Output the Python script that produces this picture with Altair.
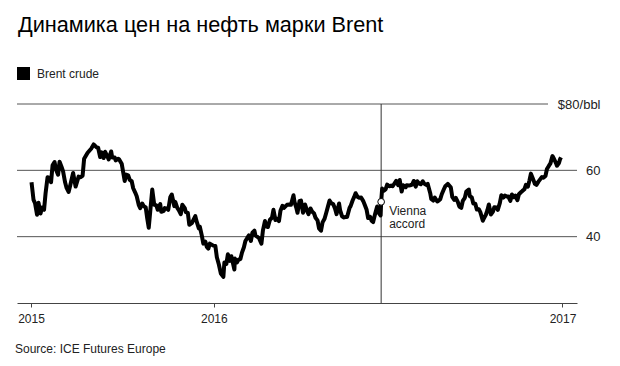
import altair as alt
import pandas as pd

# ---------------- data ----------------
title_text = "Динамика цен на нефть марки Brent"
source_text = "Source: ICE Futures Europe"
series_name = "Brent crude"

dates = [
    "2015-01-02", "2015-01-06", "2015-01-09", "2015-01-13", "2015-01-16", "2015-01-20", "2015-01-23",
    "2015-01-27", "2015-01-30", "2015-02-03", "2015-02-06", "2015-02-10", "2015-02-13", "2015-02-17",
    "2015-02-20", "2015-02-24", "2015-02-27", "2015-03-03", "2015-03-06", "2015-03-10", "2015-03-13",
    "2015-03-17", "2015-03-20", "2015-03-26", "2015-03-31", "2015-04-06", "2015-04-10", "2015-04-14",
    "2015-04-17", "2015-04-24", "2015-05-01", "2015-05-06", "2015-05-12", "2015-05-15", "2015-05-19",
    "2015-05-22", "2015-05-26", "2015-05-29", "2015-06-03", "2015-06-05", "2015-06-10", "2015-06-12",
    "2015-06-17", "2015-06-19", "2015-06-24", "2015-06-26", "2015-07-01", "2015-07-07", "2015-07-10",
    "2015-07-14", "2015-07-17", "2015-07-21", "2015-07-24", "2015-07-28", "2015-07-31", "2015-08-04",
    "2015-08-07", "2015-08-11", "2015-08-14", "2015-08-18", "2015-08-21", "2015-08-24", "2015-08-27",
    "2015-08-31", "2015-09-04", "2015-09-08", "2015-09-11", "2015-09-16", "2015-09-18", "2015-09-23",
    "2015-09-25", "2015-09-30", "2015-10-02", "2015-10-06", "2015-10-09", "2015-10-14", "2015-10-16",
    "2015-10-20", "2015-10-23", "2015-10-27", "2015-10-30", "2015-11-04", "2015-11-06", "2015-11-10",
    "2015-11-13", "2015-11-18", "2015-11-20", "2015-11-25", "2015-11-27", "2015-12-02", "2015-12-04",
    "2015-12-08", "2015-12-11", "2015-12-15", "2015-12-18", "2015-12-21", "2015-12-24", "2015-12-31",
    "2016-01-04", "2016-01-07", "2016-01-11", "2016-01-15", "2016-01-20", "2016-01-22", "2016-01-26",
    "2016-01-29", "2016-02-02", "2016-02-05", "2016-02-11", "2016-02-12", "2016-02-16", "2016-02-19",
    "2016-02-23", "2016-02-26", "2016-03-01", "2016-03-04", "2016-03-08", "2016-03-11", "2016-03-15",
    "2016-03-18", "2016-03-22", "2016-03-24", "2016-03-31", "2016-04-05", "2016-04-08", "2016-04-12",
    "2016-04-15", "2016-04-18", "2016-04-22", "2016-04-26", "2016-04-29", "2016-05-03", "2016-05-06",
    "2016-05-10", "2016-05-13", "2016-05-17", "2016-05-20", "2016-05-26", "2016-05-31", "2016-06-03",
    "2016-06-08", "2016-06-10", "2016-06-14", "2016-06-16", "2016-06-20", "2016-06-23", "2016-06-27",
    "2016-07-01", "2016-07-06", "2016-07-08", "2016-07-12", "2016-07-15", "2016-07-19", "2016-07-22",
    "2016-07-26", "2016-07-29", "2016-08-02", "2016-08-05", "2016-08-09", "2016-08-12", "2016-08-16",
    "2016-08-19", "2016-08-23", "2016-08-26", "2016-08-30", "2016-09-02", "2016-09-07", "2016-09-09",
    "2016-09-13", "2016-09-16", "2016-09-20", "2016-09-23", "2016-09-28", "2016-09-30", "2016-10-04",
    "2016-10-07", "2016-10-10", "2016-10-14", "2016-10-18", "2016-10-21", "2016-10-25", "2016-10-28",
    "2016-11-01", "2016-11-04", "2016-11-08", "2016-11-11", "2016-11-14", "2016-11-18", "2016-11-22",
    "2016-11-25", "2016-11-29", "2016-11-30", "2016-12-02", "2016-12-06", "2016-12-09", "2016-12-12",
    "2016-12-16", "2016-12-20", "2016-12-23", "2016-12-30",
    "2017-01-03", "2017-01-06", "2017-01-10", "2017-01-13", "2017-01-18", "2017-01-20", "2017-01-24",
    "2017-01-27", "2017-01-31", "2017-02-03", "2017-02-07", "2017-02-10", "2017-02-14", "2017-02-17",
    "2017-02-21", "2017-02-24", "2017-02-28", "2017-03-03", "2017-03-08", "2017-03-10", "2017-03-14",
    "2017-03-17", "2017-03-22", "2017-03-24", "2017-03-28", "2017-03-31", "2017-04-04", "2017-04-07",
    "2017-04-12", "2017-04-18", "2017-04-21", "2017-04-25", "2017-04-28", "2017-05-02", "2017-05-05",
    "2017-05-09", "2017-05-12", "2017-05-16", "2017-05-19", "2017-05-24", "2017-05-26", "2017-05-30",
    "2017-06-02", "2017-06-06", "2017-06-09", "2017-06-13", "2017-06-16", "2017-06-21", "2017-06-23",
    "2017-06-27", "2017-06-30", "2017-07-03", "2017-07-07", "2017-07-11", "2017-07-14", "2017-07-18",
    "2017-07-21", "2017-07-25", "2017-07-28", "2017-08-01", "2017-08-04", "2017-08-08", "2017-08-11",
    "2017-08-15", "2017-08-18", "2017-08-22", "2017-08-25", "2017-08-29", "2017-09-01", "2017-09-05",
    "2017-09-08", "2017-09-12", "2017-09-15", "2017-09-19", "2017-09-22", "2017-09-25", "2017-09-29",
    "2017-10-03", "2017-10-06", "2017-10-10", "2017-10-13", "2017-10-17", "2017-10-20", "2017-10-24",
    "2017-10-27", "2017-10-31", "2017-11-03", "2017-11-07", "2017-11-10", "2017-11-14", "2017-11-16",
    "2017-11-20", "2017-11-22", "2017-11-24",
]

brent = [
    56.4, 51.1, 50.1, 46.6, 50.2, 47.0, 48.8,
    48.1, 53.0, 57.9, 57.8, 56.4, 61.5, 62.5,
    60.2, 58.7, 62.6, 61.0, 59.7, 56.4, 54.7,
    53.5, 55.3, 59.2, 55.1, 58.1, 57.9, 58.4,
    63.5, 65.3, 66.5, 67.8, 66.9, 66.8, 64.0,
    65.4, 63.7, 65.6, 64.0, 63.3, 65.7, 63.9,
    63.9, 63.0, 63.5, 63.3, 62.0, 56.8, 58.7,
    58.5, 57.1, 56.7, 54.6, 53.3, 52.2, 49.6,
    48.6, 50.0, 49.2, 48.8, 45.5, 42.7, 47.6,
    54.2, 49.6, 49.5, 48.1, 49.8, 47.5, 47.8,
    48.6, 48.4, 48.1, 51.9, 52.7, 49.2, 50.5,
    48.7, 48.0, 46.8, 49.6, 48.6, 47.4, 47.2,
    43.6, 44.1, 44.7, 46.2, 44.9, 42.5, 43.0,
    40.3, 37.9, 38.5, 36.9, 36.4, 37.9, 37.3,
    37.2, 33.8, 31.6, 28.9, 27.9, 32.2, 31.8,
    34.7, 32.7, 34.1, 30.1, 33.4, 32.2, 33.0,
    33.3, 35.1, 36.8, 38.7, 39.7, 40.4, 38.7,
    41.2, 41.8, 40.4, 39.6, 37.9, 41.9, 44.7,
    43.1, 42.9, 45.1, 45.7, 48.1, 45.0, 45.4,
    44.7, 47.8, 49.3, 48.7, 49.6, 49.7, 49.6,
    52.5, 50.5, 48.5, 47.2, 50.7, 50.9, 47.2,
    49.7, 47.4, 46.8, 48.5, 47.6, 47.0, 45.7,
    44.9, 42.5, 41.8, 44.3, 45.4, 47.0, 49.2,
    50.9, 50.0, 49.9, 48.4, 46.8, 50.0, 48.0,
    46.1, 45.8, 45.9, 45.9, 48.7, 49.2, 50.9,
    51.9, 53.1, 52.0, 51.7, 51.8, 50.8, 49.7,
    48.1, 45.6, 46.0, 44.8, 44.4, 46.9, 49.1,
    47.2, 46.4, 50.5, 54.5, 53.9, 54.3, 55.7,
    55.2, 55.4, 55.2, 56.8,
    55.5, 57.1, 53.6, 55.5, 54.9, 55.5, 55.4,
    55.5, 55.7, 56.8, 55.1, 56.7, 56.0, 55.8,
    56.7, 56.0, 55.6, 55.9, 53.1, 51.4, 50.9,
    51.8, 50.6, 50.8, 51.3, 52.8, 54.2, 55.2,
    55.9, 54.9, 52.0, 51.1, 51.7, 50.5, 49.1,
    48.7, 50.8, 51.7, 53.6, 54.2, 52.2, 51.8,
    50.0, 49.9, 48.2, 48.3, 47.4, 44.8, 45.5,
    46.6, 47.9, 49.7, 46.7, 47.5, 48.9, 48.8,
    48.1, 50.2, 52.5, 51.8, 52.4, 52.1, 52.1,
    50.8, 52.7, 51.9, 52.4, 51.0, 52.8, 53.4,
    53.8, 54.3, 55.6, 55.1, 56.9, 59.0, 57.5,
    55.9, 55.6, 56.6, 57.2, 58.0, 57.8, 58.3,
    60.4, 61.4, 62.1, 64.3, 63.5, 62.2, 61.4,
    62.2, 63.3, 63.9,
]

grid_values = [40, 60]
top_grid_value = 80
y_floor = 20
y_tick_values = [40, 60, 80]

event_date = "2016-11-30"
event_price = 50.5
event_label = "Vienna\naccord"

# ---------------- chart ----------------
W, H = 560, 199
FONT = "Liberation Sans"

df = pd.DataFrame({"date": dates, "price": brent, "series": series_name})

x_scale = alt.Scale(domain=[alt.DateTime(year=2014, month=12, date=4),
                            alt.DateTime(year=2017, month=12, date=26)])
y_scale = alt.Scale(domain=[y_floor, top_grid_value], nice=False, zero=False)

x_axis = alt.Axis(
    values=[alt.DateTime(year=2015, month=1, date=1),
            alt.DateTime(year=2016, month=1, date=1),
            alt.DateTime(year=2017, month=11, date=27)],
    format="%Y", grid=False, domain=True, domainColor="#444", domainWidth=1,
    ticks=True, tickColor="#444", tickSize=4, tickWidth=1,
    labelFont=FONT, labelFontSize=12, labelColor="#222", labelPadding=6,
    labelFlush=False, labelOverlap=False, title=None,
)
y_axis = alt.Axis(
    orient="right", values=y_tick_values, grid=False, domain=False, ticks=False,
    labelExpr="datum.value == 80 ? '$80/bbl' : datum.label",
    labelAlign="right", labelBaseline="middle", labelPadding=23,
    labelFont=FONT, labelFontSize=13, labelColor="#222", title=None,
)

X = alt.X("date:T", scale=x_scale, axis=x_axis, title=None)
Y = alt.Y("price:Q", scale=y_scale, axis=y_axis, title=None)

grid = alt.Chart(pd.DataFrame({"price": grid_values})).mark_rule(
    color="#555", strokeWidth=1
).encode(y=Y, x=alt.value(0), x2=alt.value(W))

top_grid = alt.Chart(pd.DataFrame({"price": [top_grid_value]})).mark_rule(
    color="#555", strokeWidth=1
).encode(y=Y, x=alt.value(0), x2=alt.value(W - 29))

event_df = pd.DataFrame({"date": [event_date], "price": [event_price],
                         "top": [top_grid_value], "bottom": [y_floor],
                         "label": [event_label]})

vline = alt.Chart(event_df).mark_rule(color="#333", strokeWidth=1).encode(
    x=X, y=alt.Y("top:Q", scale=y_scale, axis=y_axis, title=None), y2="bottom:Q"
)

line = alt.Chart(df).mark_line(strokeWidth=4, strokeJoin="round").encode(
    x=X, y=Y,
    color=alt.Color(
        "series:N",
        scale=alt.Scale(domain=[series_name], range=["#000000"]),
        legend=alt.Legend(
            orient="none", legendX=0, legendY=-37, title=None,
            symbolType="square", symbolSize=169, symbolFillColor="#000000",
            symbolStrokeColor="#000000", symbolStrokeWidth=0, symbolOpacity=1,
            labelFont=FONT, labelFontSize=12, labelColor="#222", labelOffset=7,
            padding=0,
        ),
    ),
)

point = alt.Chart(event_df).mark_point(
    filled=True, fill="white", stroke="black", strokeWidth=1, size=45, opacity=1
).encode(x=X, y=Y)

ann = alt.Chart(event_df).mark_text(
    align="left", baseline="alphabetic", dx=8, dy=13, lineBreak="\n",
    lineHeight=12.7, font=FONT, fontSize=12, color="#222"
).encode(x=X, y=Y, text="label:N")

title = alt.Chart(pd.DataFrame({"t": [title_text]})).mark_text(
    align="left", baseline="alphabetic", font=FONT, fontSize=21.7, color="#000"
).encode(x=alt.value(1), y=alt.value(-72), text="t:N")

source = alt.Chart(pd.DataFrame({"t": [source_text]})).mark_text(
    align="left", baseline="alphabetic", font=FONT, fontSize=12, color="#222"
).encode(x=alt.value(-2), y=alt.value(249), text="t:N")

chart = alt.layer(grid, top_grid, vline, line, point, ann, title, source).properties(
    width=W, height=H,
    background="white",
    autosize=alt.AutoSizeParams(type="none"),
    padding={"left": 9, "top": 96, "right": 34, "bottom": 55},
).configure_view(strokeWidth=0)

chart.save("out.html", embed_options={"renderer": "svg", "actions": False})
